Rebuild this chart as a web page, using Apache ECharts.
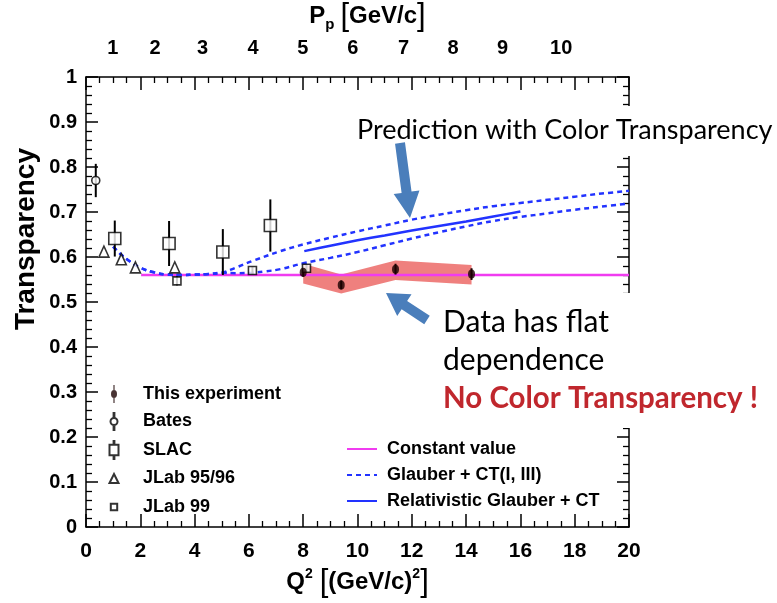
<!DOCTYPE html>
<html>
<head>
<meta charset="utf-8">
<title>Transparency vs Q2</title>
<script src="https://cdn.jsdelivr.net/npm/echarts@6/dist/echarts.min.js"></script>
<style>
  html, body { margin: 0; padding: 0; background: #fff; }
  #chart { width: 777px; height: 603px; }
</style>
</head>
<body>
<div id="chart"></div>
<script>
// ---- data ----
// This experiment (stat. errors) and systematic band edges
const expQ2 = [8.0, 9.4, 11.4, 14.2];
const expT = [0.566, 0.538, 0.573, 0.562];
const expErr = [0.010, 0.010, 0.012, 0.013];
const expBandLow = [0.541, 0.519, 0.549, 0.539];
const expBandHigh = [0.585, 0.561, 0.592, 0.582];

const batesQ2 = [0.36];
const batesT = [0.770];
const batesErr = [0.037];

const slacQ2 = [1.06, 3.06, 5.04, 6.79];
const slacT = [0.641, 0.630, 0.611, 0.670];
const slacErr = [0.040, 0.050, 0.051, 0.058];

const jlab95Q2 = [0.66, 1.30, 1.82, 3.27];
const jlab95T = [0.612, 0.595, 0.577, 0.577];

const jlab99Q2 = [3.35, 6.13, 8.12];
const jlab99T = [0.547, 0.570, 0.575];
const jlab99Err = [0.010, 0.008, 0.008];

// constant fit
const constQ2 = [2.03, 20];
const constT = [0.56, 0.56];

// Glauber + CT: common low-Q2 part, then two branches
const glauberLowQ2 = [1.0, 1.3, 1.62, 2.0, 2.5, 3.0, 3.5, 4.0, 4.5, 5.0];
const glauberLowT = [0.623, 0.605, 0.590, 0.576, 0.566, 0.561, 0.560, 0.561, 0.562, 0.565];
const ctUpperQ2 = [5.5, 6.17, 7.16, 8, 9, 10, 11, 12, 13, 14, 15, 16, 17, 18, 19, 20];
const ctUpperT = [0.576, 0.592, 0.613, 0.628, 0.643, 0.657, 0.670, 0.683, 0.694, 0.704, 0.713, 0.720, 0.727, 0.734, 0.741, 0.747];
const ctLowerQ2 = [5.5, 6.13, 6.6, 7.16, 8, 9, 10, 11, 12, 13, 14, 15, 16, 17, 18, 19, 20];
const ctLowerT = [0.564, 0.565, 0.568, 0.573, 0.586, 0.598, 0.611, 0.626, 0.641, 0.655, 0.668, 0.680, 0.689, 0.697, 0.705, 0.712, 0.719];

// Relativistic Glauber + CT
const relQ2 = [8.04, 9, 10, 11, 12, 13, 14, 15, 16];
const relT = [0.613, 0.625, 0.637, 0.648, 0.659, 0.669, 0.679, 0.690, 0.701];

// top axis: proton momentum labels placed at their Q2 positions
const pTickQ2 = [0.99, 2.54, 4.29, 6.15, 7.99, 9.83, 11.70, 13.52, 15.34, 17.50];
const pTickLabels = ['1', '2', '3', '4', '5', '6', '7', '8', '9', '10'];

// ---- helpers ----
const zip = (xs, ys) => xs.map((x, i) => [x, ys[i]]);
const errRows = (xs, ys, es) => xs.map((x, i) => [x, ys[i] - es[i], ys[i] + es[i]]);

const FONT = '"Liberation Sans", Arial, sans-serif';
const NOTE_FONT = 'Lato';
const BLUE = '#2233ff';
const ARROW = '#4a7ebb';

const chart = echarts.init(document.getElementById('chart'), null, { renderer: 'canvas' });

const axisText = { fontFamily: FONT, fontWeight: 'bold', fontSize: 20, color: '#000' };
const frameLine = { show: true, onZero: false, lineStyle: { color: '#000', width: 1.5 } };

const openMarker = { color: '#fff', borderColor: '#000', borderWidth: 1.6 };

// legend icons (10x20 box; leading moves fix the box)
const iconExp = 'path://M0,0M10,20M4.4,1H5.6V19H4.4Z M8,10A3,4 0 1 1 2,10A3,4 0 1 1 8,10Z';
const iconBates = 'path://M0,0M10,20M4.6,1.5H5.4V6.5H4.6Z M8.5,10A3.5,3.5 0 1 1 1.5,10A3.5,3.5 0 1 1 8.5,10Z M4.6,13.5H5.4V18.5H4.6Z';
const iconSlac = 'path://M0,0M10,20M4.6,1H5.4V4.8H4.6Z M0.5,4.8H9.5V15.2H0.5Z M4.6,15.2H5.4V19H4.6Z';
const iconTri = 'path://M0,0M10,20M5,5.5L9.5,14.5L0.5,14.5Z';
const iconSmall = 'path://M0,0M10,20M1.8,6.8H8.2V13.2H1.8Z';

function errorBarSeries(name, rows, color) {
  return {
    name: name,
    type: 'custom',
    z: 4,
    data: rows,
    encode: { x: 0, y: [1, 2] },
    renderItem: function (params, api) {
      const p1 = api.coord([api.value(0), api.value(1)]);
      const p2 = api.coord([api.value(0), api.value(2)]);
      return {
        type: 'line',
        shape: { x1: p1[0], y1: p1[1], x2: p2[0], y2: p2[1] },
        style: { stroke: color, lineWidth: 2 }
      };
    },
    silent: true
  };
}

function arrowPoints(x1, y1, x2, y2, shaft, headW, headL) {
  const dx = x2 - x1, dy = y2 - y1, len = Math.hypot(dx, dy);
  const ux = dx / len, uy = dy / len, nx = -uy, ny = ux;
  const bx = x2 - ux * headL, by = y2 - uy * headL;
  return [
    [x1 + nx * shaft / 2, y1 + ny * shaft / 2],
    [bx + nx * shaft / 2, by + ny * shaft / 2],
    [bx + nx * headW / 2, by + ny * headW / 2],
    [x2, y2],
    [bx - nx * headW / 2, by - ny * headW / 2],
    [bx - nx * shaft / 2, by - ny * shaft / 2],
    [x1 - nx * shaft / 2, y1 - ny * shaft / 2]
  ];
}

const option = {
  backgroundColor: '#fff',
  animation: false,
  grid: { left: 86, right: 148, top: 77, bottom: 76, containLabel: false, outerBoundsMode: 'none' },
  xAxis: [
    {
      type: 'value', position: 'bottom', min: 0, max: 20, interval: 2,
      axisLine: frameLine,
      axisTick: { show: true, inside: true, length: 13, lineStyle: { color: '#000', width: 1.5 } },
      minorTick: { show: true, splitNumber: 4, length: 6, lineStyle: { color: '#000', width: 1.3 } },
      splitLine: { show: false },
      axisLabel: Object.assign({ margin: 14 }, axisText, { fontSize: 21 }),
      name: '{q|Q}{s|2}{lb|[}{t|(GeV/c)}{s|2}{b|]}',
      nameLocation: 'middle', nameGap: 36,
      nameTextStyle: {
        rich: {
          q: { fontFamily: FONT, fontWeight: 'bold', fontSize: 24, color: '#000' },
          t: { fontFamily: FONT, fontWeight: 'bold', fontSize: 24, color: '#000' },
          s: { fontFamily: FONT, fontWeight: 'bold', fontSize: 14, color: '#000', verticalAlign: 'top', padding: [0, 0, 10, 0] },
          lb: { fontFamily: FONT, fontWeight: 'normal', fontSize: 31, color: '#000', padding: [0, 0, 0, 7] },
          b: { fontFamily: FONT, fontWeight: 'normal', fontSize: 31, color: '#000' }
        }
      }
    },
    {
      type: 'value', position: 'top', min: 0, max: 20, interval: 2,
      axisLine: frameLine,
      axisTick: { show: true, inside: true, length: 13, lineStyle: { color: '#000', width: 1.5 } },
      minorTick: { show: true, splitNumber: 4, length: 6, lineStyle: { color: '#000', width: 1.3 } },
      splitLine: { show: false },
      axisLabel: Object.assign({
        margin: 19,
        customValues: pTickQ2,
        formatter: function (v) {
          let best = -1, d = 1e9;
          pTickQ2.forEach((q, i) => { if (Math.abs(q - v) < d) { d = Math.abs(q - v); best = i; } });
          return d < 0.05 ? pTickLabels[best] : '';
        }
      }, axisText),
      name: '{p|P}{sub|p}{lb|[}{t|GeV/c}{b|]}',
      nameLocation: 'middle', nameGap: 45,
      nameTextStyle: {
        padding: [0, 0, 0, 20],
        rich: {
          p: { fontFamily: FONT, fontWeight: 'bold', fontSize: 24, color: '#000' },
          t: { fontFamily: FONT, fontWeight: 'bold', fontSize: 24, color: '#000' },
          sub: { fontFamily: FONT, fontWeight: 'bold', fontSize: 15, color: '#000', verticalAlign: 'bottom', padding: [12, 0, 0, 0] },
          lb: { fontFamily: FONT, fontWeight: 'normal', fontSize: 31, color: '#000', padding: [0, 0, 0, 6] },
          b: { fontFamily: FONT, fontWeight: 'normal', fontSize: 31, color: '#000' }
        }
      }
    }
  ],
  yAxis: [
    {
      type: 'value', position: 'left', min: 0, max: 1, interval: 0.1,
      axisLine: frameLine,
      axisTick: { show: true, inside: true, length: 12, lineStyle: { color: '#000', width: 1.5 } },
      minorTick: { show: true, splitNumber: 5, length: 6, lineStyle: { color: '#000', width: 1.3 } },
      splitLine: { show: false },
      axisLabel: Object.assign({
        margin: 9,
        formatter: v => (Math.abs(v) < 1e-9 ? '0' : Math.abs(v - 1) < 1e-9 ? '1' : v.toFixed(1))
      }, axisText)
    },
    {
      type: 'value', position: 'right', min: 0, max: 1, interval: 0.1,
      axisLine: frameLine,
      axisTick: { show: true, inside: true, length: 12, lineStyle: { color: '#000', width: 1.5 } },
      minorTick: { show: true, splitNumber: 5, length: 6, lineStyle: { color: '#000', width: 1.3 } },
      splitLine: { show: false },
      axisLabel: { show: false }
    }
  ],
  legend: [
    {
      orient: 'vertical', left: 103, top: 379,
      itemWidth: 12, itemHeight: 20, itemGap: 6.5,
      selectedMode: false,
      textStyle: { fontFamily: FONT, fontWeight: 'bold', fontSize: 18, color: '#000', padding: [0, 0, 0, 18] },
      data: [
        { name: 'This experiment', icon: iconExp },
        { name: 'Bates', icon: iconBates },
        { name: 'SLAC', icon: iconSlac },
        { name: 'JLab 95/96', icon: iconTri },
        { name: 'JLab 99', icon: iconSmall }
      ]
    },
    {
      orient: 'vertical', left: 341, top: 435,
      itemWidth: 30, itemHeight: 14, itemGap: 8,
      selectedMode: false,
      itemStyle: { opacity: 0 },
      textStyle: { fontFamily: FONT, fontWeight: 'bold', fontSize: 18, color: '#000', padding: [0, 0, 0, 5] },
      data: ['Constant value', 'Glauber + CT(I, III)', 'Relativistic Glauber + CT']
    }
  ],
  series: [
    {
      name: 'Systematic band',
      type: 'custom',
      z: 1,
      silent: true,
      data: expQ2.map((q, i) => [q, expBandLow[i], expBandHigh[i]]),
      encode: { x: 0, y: [1, 2] },
      renderItem: function (params, api) {
        if (params.dataIndex !== 0) return null;
        const upper = expQ2.map((q, i) => api.coord([q, expBandHigh[i]]));
        const lower = expQ2.map((q, i) => api.coord([q, expBandLow[i]])).reverse();
        return {
          type: 'polygon',
          shape: { points: upper.concat(lower) },
          style: { fill: '#ec6a67', opacity: 0.85 }
        };
      }
    },
    {
      name: 'Constant value', type: 'line', z: 2,
      data: zip(constQ2, constT), symbol: 'none',
      itemStyle: { color: '#f03cf0' },
      lineStyle: { color: '#f03cf0', width: 2.5 }
    },
    {
      name: 'Glauber + CT(I, III)', type: 'line', z: 2, smooth: 0.4,
      data: zip(glauberLowQ2.concat(ctUpperQ2), glauberLowT.concat(ctUpperT)), symbol: 'none',
      itemStyle: { color: BLUE },
      lineStyle: { color: BLUE, width: 2.5, type: [5, 4] }
    },
    {
      name: 'Glauber + CT(I, III)', type: 'line', z: 2, smooth: 0.4,
      data: zip(glauberLowQ2.concat(ctLowerQ2), glauberLowT.concat(ctLowerT)), symbol: 'none',
      itemStyle: { color: BLUE },
      lineStyle: { color: BLUE, width: 2.5, type: [5, 4] }
    },
    {
      name: 'Relativistic Glauber + CT', type: 'line', z: 2, smooth: 0.3,
      data: zip(relQ2, relT), symbol: 'none',
      itemStyle: { color: BLUE },
      lineStyle: { color: BLUE, width: 2.5 }
    },
    errorBarSeries('Bates errors', errRows(batesQ2, batesT, batesErr), '#000'),
    errorBarSeries('SLAC errors', errRows(slacQ2, slacT, slacErr), '#000'),
    errorBarSeries('JLab 99 errors', errRows(jlab99Q2, jlab99T, jlab99Err), '#000'),
    errorBarSeries('This experiment errors', errRows(expQ2, expT, expErr), '#1a0000'),
    {
      name: 'Bates', type: 'scatter', z: 5,
      data: zip(batesQ2, batesT), symbol: 'circle', symbolSize: 8,
      itemStyle: openMarker
    },
    {
      name: 'SLAC', type: 'scatter', z: 5,
      data: zip(slacQ2, slacT), symbol: 'rect', symbolSize: 12,
      itemStyle: openMarker
    },
    {
      name: 'JLab 95/96', type: 'scatter', z: 5,
      data: zip(jlab95Q2, jlab95T), symbol: 'triangle', symbolSize: [10, 11],
      itemStyle: openMarker
    },
    {
      name: 'JLab 99', type: 'scatter', z: 5,
      data: zip(jlab99Q2, jlab99T), symbol: 'rect', symbolSize: 8,
      itemStyle: openMarker
    },
    {
      name: 'This experiment', type: 'scatter', z: 6,
      data: zip(expQ2, expT), symbol: 'circle', symbolSize: [7, 9],
      itemStyle: { color: '#1a0000' }
    }
  ],
  graphic: [
    // vertical axis title
    {
      type: 'text', left: 12, top: 148, z: 100,
      rotation: Math.PI / 2, originX: 0, originY: 0,
      style: { text: 'Transparency', fontFamily: FONT, fontWeight: 'bold', fontSize: 28, fill: '#000' }
    },
    // annotation backgrounds
    { type: 'rect', z: 90, shape: { x: 350, y: 106, width: 427, height: 50 }, style: { fill: '#fff' } },
    { type: 'rect', z: 90, shape: { x: 434, y: 293, width: 343, height: 135 }, style: { fill: '#fff' } },
    {
      type: 'text', z: 100, x: 357, y: 130,
      style: { text: 'Prediction with Color Transparency', fontFamily: NOTE_FONT, fontSize: 27, fill: '#000', verticalAlign: 'middle' }
    },
    {
      type: 'text', z: 100, x: 443, y: 322,
      style: { text: 'Data has flat', fontFamily: NOTE_FONT, fontSize: 30, fill: '#000', verticalAlign: 'middle' }
    },
    {
      type: 'text', z: 100, x: 443, y: 360,
      style: { text: 'dependence', fontFamily: NOTE_FONT, fontSize: 30, fill: '#000', verticalAlign: 'middle' }
    },
    {
      type: 'text', z: 100, x: 443, y: 398,
      style: { text: 'No Color Transparency !', fontFamily: NOTE_FONT, fontWeight: 'bold', fontSize: 29.5, fill: '#c0272d', verticalAlign: 'middle' }
    },
    // arrows
    {
      type: 'polygon', z: 100,
      shape: { points: arrowPoints(400, 143, 410, 218, 10, 26, 26) },
      style: { fill: ARROW }
    },
    {
      type: 'polygon', z: 100,
      shape: { points: arrowPoints(427, 320, 386, 293, 10, 26, 22) },
      style: { fill: ARROW }
    }
  ]
};

chart.setOption(option);
</script>
</body>
</html>
